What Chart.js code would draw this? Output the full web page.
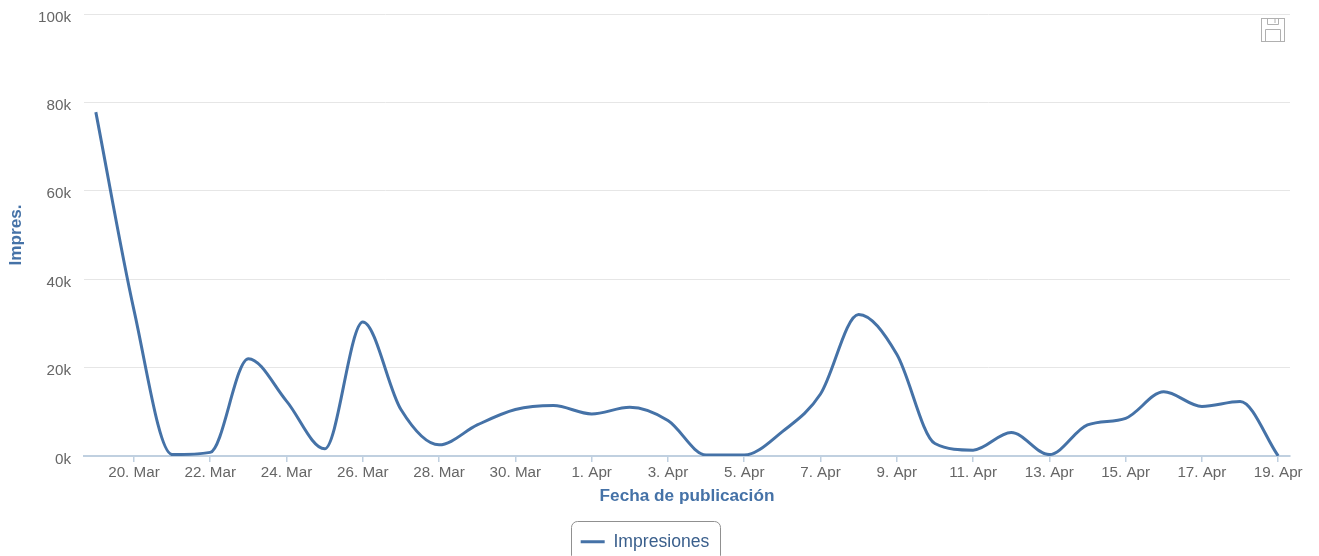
<!DOCTYPE html>
<html>
<head>
<meta charset="utf-8">
<title>Impresiones</title>
<script src="https://cdn.jsdelivr.net/npm/chart.js@4"></script>
<style>
html, body { margin: 0; padding: 0; background: #fff; overflow: hidden; }
#wrap { position: relative; width: 1319px; height: 556px; }
#save { position: absolute; left: 1261px; top: 17px; }
</style>
</head>
<body>
<div id="wrap">
	<canvas id="myChart" width="1319" height="556"></canvas>
	<svg id="save" width="24" height="25" viewBox="0 0 24 25" fill="none" stroke="#b0b0b0" stroke-width="1">
		<rect x="0.5" y="1.5" width="23" height="23"/>
		<path d="M6.5 1.5 V7.5 H17.5 V1.5 M14 2 V6"/>
		<path d="M4.5 24 V12.5 H19.5 V24"/>
	</svg>
</div>
<script>
const fechas = ["19. Mar","20. Mar","21. Mar","22. Mar","23. Mar","24. Mar","25. Mar","26. Mar","27. Mar","28. Mar","29. Mar","30. Mar","31. Mar",
	"1. Apr","2. Apr","3. Apr","4. Apr","5. Apr","6. Apr","7. Apr","8. Apr","9. Apr","10. Apr","11. Apr","12. Apr","13. Apr","14. Apr","15. Apr","16. Apr","17. Apr","18. Apr","19. Apr"];
const impresiones = [77800,33000,300,800,22000,12400,1600,30300,10500,2500,7000,10500,11400,9500,11000,8000,200,200,5500,14000,32000,23000,2800,1300,5300,300,7000,8500,14500,11200,12300,0];
const ticksY = [0,20000,40000,60000,80000,100000];

const azul = '#4572a7';
const gris = '#666666';

// recuadro de la leyenda, y la leyenda un poco mas abajo
const bordeLeyenda = {
	id: 'bordeLeyenda',
	beforeDraw(chart) {
		chart.legend.top = 530.5;
		chart.legend.bottom = 559.5;
	},
	afterDraw(chart) {
		const ctx = chart.ctx;
		ctx.save();
		ctx.strokeStyle = '#909090';
		ctx.lineWidth = 1;
		ctx.beginPath();
		ctx.roundRect(571.5, 521.5, 149, 40, 6);
		ctx.stroke();
		ctx.restore();
	}
};

var ctx = document.getElementById("myChart").getContext('2d');
var myChart = new Chart(ctx, {
	type: 'line',
	data: {
		datasets: [{
			label: 'Impresiones',
			data: impresiones.map((v, i) => ({x: i, y: v})),
			borderColor: azul,
			backgroundColor: azul,
			borderWidth: 3,
			pointRadius: 0,
			cubicInterpolationMode: 'monotone'
		}]
	},
	options: {
		responsive: false,
		animation: false,
		layout: { autoPadding: false, padding: { top: 14, right: 29, left: 0, bottom: 0 } },
		plugins: {
			tooltip: { enabled: false },
			legend: {
				position: 'bottom',
				labels: {
					usePointStyle: true,
					pointStyle: 'line',
					pointStyleWidth: 24,
					color: '#3a5f8c',
					font: { family: '"Liberation Sans"', size: 17.6 },
					padding: 2.5
				}
			}
		},
		scales: {
			x: {
				type: 'linear',
				min: -0.31,
				max: 31.31,
				afterBuildTicks(axis) {
					axis.ticks = fechas.map((f, i) => ({value: i})).filter(t => t.value % 2 == 1);
				},
				afterFit(axis) { axis.height = 70; },
				grid: { drawOnChartArea: false, drawTicks: true, tickLength: 6, color: '#c0d0e0', lineWidth: 1.5 },
				border: { color: '#c0d0e0', width: 2 },
				ticks: {
					color: gris,
					autoSkip: false,
					maxRotation: 0,
					padding: 2,
					font: { family: '"Liberation Sans"', size: 15.2 },
					callback: (v) => fechas[v]
				},
				title: {
					display: true,
					text: 'Fecha de publicación',
					color: azul,
					padding: { top: 2, bottom: 19 },
					font: { family: '"Liberation Sans"', size: 17.2, weight: 'bold' }
				}
			},
			y: {
				min: 0,
				max: 100000,
				afterBuildTicks(axis) {
					axis.ticks = ticksY.map(v => ({value: v}));
				},
				afterFit(axis) {
					axis.width = 84;
					axis.paddingTop = 0;
					axis.paddingBottom = 0;
				},
				grid: { color: '#e6e6e6', lineWidth: 1, drawTicks: false },
				border: { display: false },
				ticks: {
					color: gris,
					padding: 13,
					labelOffset: 3.5,
					font: { family: '"Liberation Sans"', size: 15.2 },
					callback: (v) => (v / 1000) + 'k'
				},
				title: {
					display: true,
					text: 'Impres.',
					color: azul,
					padding: { top: 6, bottom: 0 },
					font: { family: '"Liberation Sans"', size: 17.2, weight: 'bold' }
				}
			}
		}
	},
	plugins: [bordeLeyenda]
});
</script>
</body>
</html>
